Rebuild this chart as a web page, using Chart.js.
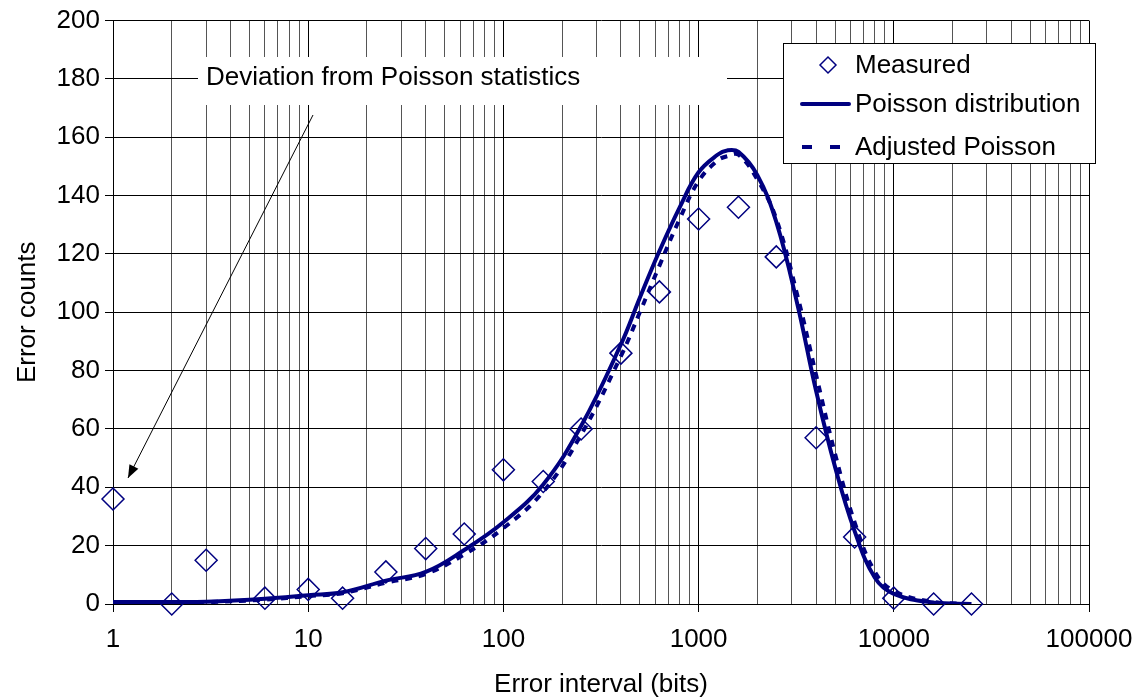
<!DOCTYPE html>
<html>
<head>
<meta charset="utf-8">
<title>Error interval distribution</title>
<script src="https://cdn.jsdelivr.net/npm/chart.js@4.4.1/dist/chart.umd.min.js"></script>
<style>
  html, body { margin: 0; padding: 0; background: #fff; }
</style>
</head>
<body>
<canvas id="errorChart" width="1146" height="700"></canvas>
<script>
// measured error counts per interval bin
const measuredX = [1, 2, 3, 6, 10, 15, 25, 40, 63, 100, 160, 250, 400, 630, 1000, 1600, 2500, 4000, 6300, 10000, 16000, 25000];
const measuredY = [36, 0, 15, 2, 5, 2, 11, 19, 24, 46, 42, 60, 86, 107, 132, 136, 119, 57, 23, 2, 0, 0];

// fitted curves
const curveX    = [1, 2, 3, 6, 10, 15, 25, 40, 63, 100, 160, 250, 400, 500, 630, 800, 1000, 1250, 1400, 1600, 2000, 2500, 3200, 4000, 5000, 6300, 8000, 10000, 16000, 25000];
const poissonY  = [0.7, 0.7, 0.8, 1.8, 3, 4, 8, 11, 18.5, 28, 41, 61, 89, 105, 121, 136, 148, 154, 155.5, 155, 147, 131, 103, 73, 47, 25, 9, 3.5, 0.5, 0];
const adjustedY = [0.5, 0.5, 0.6, 1.5, 2.7, 3.7, 7.3, 10.3, 17, 26, 38.5, 58, 85, 100, 116, 132, 145, 152, 153.5, 154, 145.5, 132, 106, 78.5, 51.5, 28, 11, 4.5, 0.7, 0];

const decadeLabels = ['1', '10', '100', '1000', '10000', '100000'];
const seriesNames = ['Measured', 'Poisson distribution', 'Adjusted Poisson'];

const NAVY = '#000080';
const FONT = 'Liberation Sans, Arial, sans-serif';

function pairs(xs, ys) {
  return xs.map((x, i) => ({ x: x, y: ys[i] }));
}

function isDecade(v) {
  const l = Math.log10(v);
  return Math.abs(l - Math.round(l)) < 1e-9;
}

// 1..9, 10..90, ... 100000
const gridValues = [];
decadeLabels.forEach(d => {
  const base = Number(d);
  for (let m = 1; m <= 9; m++) {
    if (base * m <= 100000) gridValues.push(base * m);
  }
});

// legend box and the "deviation" note are drawn by hand
const overlay = {
  id: 'overlay',
  afterDraw(chart) {
    const ctx = chart.ctx;
    ctx.save();

    // note box
    ctx.fillStyle = '#fff';
    ctx.fillRect(198, 57, 529, 48);
    ctx.fillStyle = '#000';
    ctx.font = '26px ' + FONT;
    ctx.textBaseline = 'middle';
    ctx.textAlign = 'left';
    ctx.fillText('Deviation from Poisson statistics', 206, 78);

    // arrow
    const x0 = 313, y0 = 115, x1 = 128, y1 = 478;
    ctx.strokeStyle = '#000';
    ctx.lineWidth = 1;
    ctx.beginPath();
    ctx.moveTo(x0, y0);
    ctx.lineTo(x1, y1);
    ctx.stroke();
    const ang = Math.atan2(y1 - y0, x1 - x0);
    ctx.beginPath();
    ctx.moveTo(x1, y1);
    ctx.lineTo(x1 - 13 * Math.cos(ang) + 5 * Math.sin(ang), y1 - 13 * Math.sin(ang) - 5 * Math.cos(ang));
    ctx.lineTo(x1 - 13 * Math.cos(ang) - 5 * Math.sin(ang), y1 - 13 * Math.sin(ang) + 5 * Math.cos(ang));
    ctx.closePath();
    ctx.fill();

    // legend
    ctx.fillStyle = '#fff';
    ctx.fillRect(783, 43, 312, 120);
    ctx.strokeStyle = '#000';
    ctx.lineWidth = 1;
    ctx.strokeRect(783.5, 43.5, 312, 120);

    ctx.fillStyle = '#000';
    ctx.font = '26px ' + FONT;
    const rows = [65, 104, 147];
    seriesNames.forEach((name, i) => ctx.fillText(name, 855, rows[i] + 1));

    ctx.strokeStyle = NAVY;
    ctx.lineWidth = 1.5;
    ctx.beginPath();
    ctx.moveTo(828 - 8, rows[0]);
    ctx.lineTo(828, rows[0] - 8);
    ctx.lineTo(828 + 8, rows[0]);
    ctx.lineTo(828, rows[0] + 8);
    ctx.closePath();
    ctx.stroke();

    ctx.lineWidth = 4;
    ctx.lineCap = 'round';
    ctx.beginPath();
    ctx.moveTo(802, rows[1]);
    ctx.lineTo(849, rows[1]);
    ctx.stroke();

    ctx.lineCap = 'butt';
    ctx.beginPath();
    ctx.moveTo(802, rows[2]);
    ctx.lineTo(812, rows[2]);
    ctx.moveTo(830, rows[2]);
    ctx.lineTo(840, rows[2]);
    ctx.stroke();

    ctx.restore();
  }
};

new Chart(document.getElementById('errorChart'), {
  type: 'scatter',
  data: {
    datasets: [{
      label: seriesNames[0],
      data: pairs(measuredX, measuredY),
      pointStyle: 'rectRot',
      pointRadius: 11,
      pointHoverRadius: 11,
      pointBorderWidth: 1.5,
      borderColor: NAVY,
      backgroundColor: 'rgba(0,0,0,0)',
      showLine: false,
      clip: false,
      order: 0
    }, {
      label: seriesNames[1],
      data: pairs(curveX, poissonY),
      showLine: true,
      borderColor: NAVY,
      borderWidth: 4,
      pointRadius: 0,
      tension: 0.4,
      order: 1
    }, {
      label: seriesNames[2],
      data: pairs(curveX, adjustedY),
      showLine: true,
      borderColor: NAVY,
      borderWidth: 4,
      borderDash: [7, 7],
      pointRadius: 0,
      tension: 0.4,
      order: 2
    }]
  },
  options: {
    responsive: false,
    animation: false,
    layout: { padding: { top: 19, right: 57, left: 0, bottom: 0 } },
    plugins: {
      legend: { display: false },
      tooltip: { enabled: false }
    },
    scales: {
      x: {
        type: 'logarithmic',
        min: 1,
        max: 100000,
        afterBuildTicks: (scale) => {
          scale.ticks = gridValues.map(v => ({ value: v, major: isDecade(v) }));
        },
        afterFit: (scale) => { scale.height = 96; },
        ticks: {
          autoSkip: false,
          maxRotation: 0,
          minRotation: 0,
          padding: 12,
          color: '#000',
          font: { family: FONT, size: 26 },
          callback: (v) => decadeLabels.includes(String(v)) ? String(v) : ''
        },
        grid: {
          color: (c) => c.tick && isDecade(c.tick.value) ? '#000' : '#555',
          tickColor: (c) => c.tick && isDecade(c.tick.value) ? '#000' : 'rgba(0,0,0,0)',
          tickLength: 8
        },
        border: { color: '#000', width: 1 },
        title: {
          display: true,
          text: 'Error interval (bits)',
          color: '#000',
          font: { family: FONT, size: 26 },
          padding: { top: 0, bottom: 0 }
        }
      },
      y: {
        min: 0,
        max: 200,
        afterFit: (scale) => { scale.width = 113; },
        ticks: {
          stepSize: 20,
          padding: 5,
          color: '#000',
          font: { family: FONT, size: 26 }
        },
        grid: { color: '#000', tickColor: '#000', tickLength: 8 },
        border: { color: '#000', width: 1 },
        title: {
          display: true,
          text: 'Error counts',
          color: '#000',
          font: { family: FONT, size: 26 },
          padding: { top: 12, bottom: 0 }
        }
      }
    }
  },
  plugins: [overlay]
});
</script>
</body>
</html>
